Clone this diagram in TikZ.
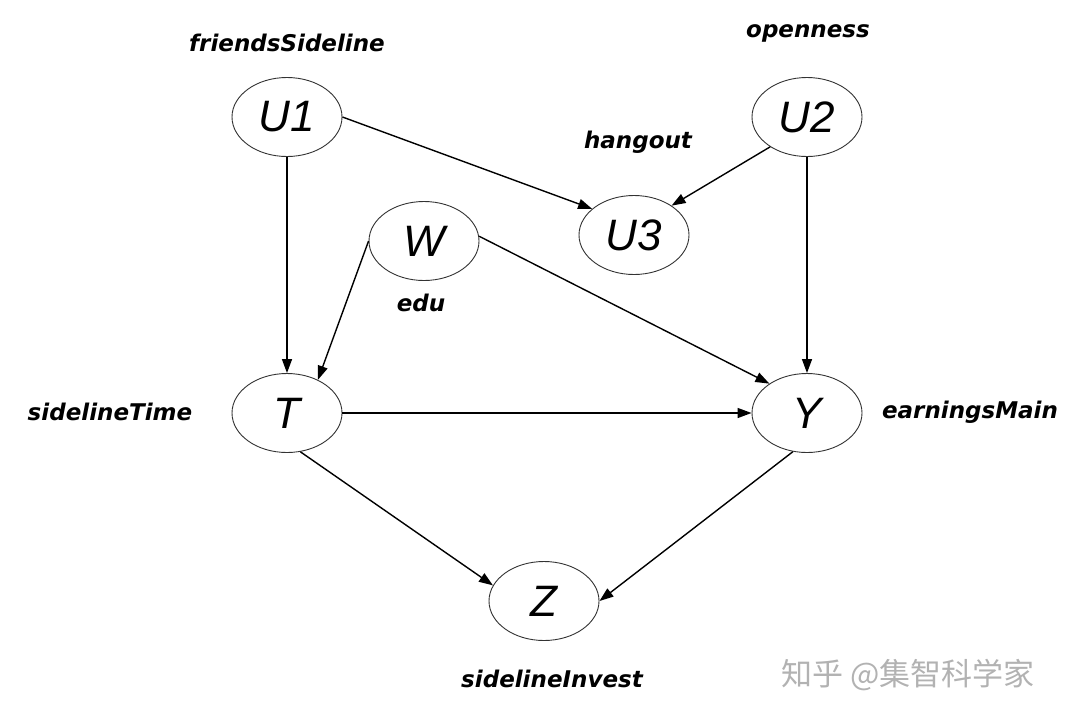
\documentclass[tikz,border=0pt]{standalone}
\usepackage{fontspec}
\setmainfont{Liberation Sans}
\newfontfamily\lblfont{DejaVu Sans}
\newfontfamily\cjkfont{Noto Sans CJK SC}
\usetikzlibrary{arrows.meta,shapes.geometric}
\begin{document}
\begin{tikzpicture}[x=1pt,y=-1pt,
  var/.style={ellipse,draw=black!80,line width=0.9pt,minimum width=110pt,minimum height=79pt,inner sep=0pt,
    font=\fontsize{44}{48}\selectfont\itshape},
  lbl/.style={font=\lblfont\bfseries\itshape\fontsize{23}{27}\selectfont,inner sep=0pt},
  edge/.style={line width=1.4pt,-{Triangle[length=14pt,width=10pt]}}]
\useasboundingbox (0,0) rectangle (1066,718);
\node[var] (U1) at (287,117) {U1};
\node[var] (U2) at (807,117) {U2};
\node[var] (W)  at (424,241) {W};
\node[var] (U3) at (634,235) {U3};
\node[var] (T)  at (287,413) {T};
\node[var] (Y)  at (807,413) {Y};
\node[var] (Z)  at (544,601) {Z};
\node[lbl] (l1) at (287,43) {friendsSideline};
\node[lbl] (l2) at (808,33) {openness};
\node[lbl] (l3) at (638,142) {hangout};
\node[lbl] (l4) at (421,303) {edu};
\node[lbl] (l5) at (110,412) {sidelineTime};
\node[lbl] (l6) at (970,412) {earningsMain};
\node[lbl] (l7) at (552,679) {sidelineInvest};
\node[text=black!30,font=\cjkfont\fontsize{31}{34}\selectfont,inner sep=0pt] (wm) at (908,675) {知乎 @集智科学家};
\draw[edge] (U1.east) -- (U3.148);
\draw[edge] (U2.219) -- (U3.38);
\draw[edge] (U1.south) -- (T.north);
\draw[edge] (W.west) -- (T.47);
\draw[edge] (W.5) -- (Y.142);
\draw[edge] (U2.south) -- (Y.north);
\draw[edge] (T.east) -- (Y.west);
\draw[edge] (T.289) -- (Z.163);
\draw[edge] (Y.250) -- (Z.east);
\end{tikzpicture}
\end{document}
